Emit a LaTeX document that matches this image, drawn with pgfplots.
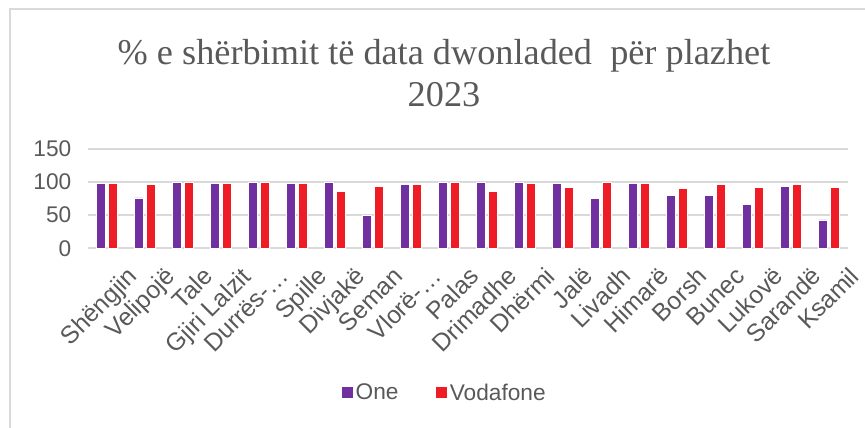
\documentclass[border=0pt]{standalone}
\usepackage{fontspec}
\setmainfont{Liberation Sans}
\newfontfamily\titlefont{Liberation Serif}
\usepackage{pgfplots}
\pgfplotsset{compat=1.18}
\definecolor{onecol}{HTML}{7030A0}
\definecolor{vodcol}{HTML}{EE1C25}
\definecolor{gridcol}{HTML}{D9D9D9}
\definecolor{txtcol}{HTML}{595959}

\begin{document}
\begin{tikzpicture}
\useasboundingbox (-66pt,-134.8pt) rectangle (582.75pt,186.2pt);
% frame (top and left edges only)
\draw[gridcol, line width=1.5pt] (-58.5pt,-134.8pt) -- (-58.5pt,179.5pt) -- (582.75pt,179.5pt);
\begin{axis}[
    at={(0pt,0pt)}, anchor=south west,
    scale only axis,
    width=570pt, height=74.5pt,
    ybar=2.25pt, bar width=6.75pt,
    xmin=-0.5, xmax=19.5,
    ymin=0, ymax=150,
    ytick={0,50,100,150},
    xtick={0,...,19},
    xticklabels={Shëngjin,Velipojë,Tale,Gjiri Lalzit,Durrës-…,Spille,Divjakë,Seman,Vlorë-…,Palas,Drimadhe,Dhërmi,Jalë,Livadh,Himarë,Borsh,Bunec,Lukovë,Sarandë,Ksamil},
    ymajorgrids, grid style={gridcol, line width=1.2pt},
    axis line style={draw=none},
    major tick length=0pt,
    tick style={draw=none},
    /pgf/number format/assume math mode=true,
    ticklabel style={font=\fontsize{17}{20}\selectfont, text=txtcol},
    yticklabel style={xshift=-9pt},
    xticklabel style={font=\fontsize{18.5}{21}\selectfont, rotate=45, anchor=north east, inner sep=0pt, yshift=-19pt, xshift=1pt},
    legend columns=2,
    legend style={at={(0.4697,-1.456)}, anchor=center, draw=none,
        font=\fontsize{17}{20}\selectfont, text=txtcol,
        /tikz/every even column/.append style={column sep=26pt}},
    legend image code/.code={\fill[#1,draw=none] (0pt,-4pt) rectangle (8.5pt,4.5pt);},
]
\addplot[fill=onecol, draw=white, line width=0.3pt] coordinates {
    (0,98) (1,76) (2,100) (3,98) (4,100) (5,98) (6,100) (7,50) (8,96) (9,100)
    (10,100) (11,100) (12,98) (13,75) (14,98) (15,80) (16,80) (17,66) (18,94) (19,43)
};
\addplot[fill=vodcol, draw=white, line width=0.3pt] coordinates {
    (0,98) (1,96) (2,100) (3,98) (4,100) (5,98) (6,86) (7,94) (8,96) (9,100)
    (10,86) (11,98) (12,92) (13,100) (14,98) (15,90) (16,96) (17,92) (18,96) (19,92)
};
\legend{One, Vodafone}
\end{axis}
\node[anchor=base, text=txtcol, font=\titlefont\fontsize{27.2}{31}\selectfont] at (267pt,137.5pt) {\% e shërbimit të data dwonladed\ \ për plazhet};
\node[anchor=base, text=txtcol, font=\titlefont\fontsize{27.2}{31}\selectfont] at (267pt,106pt) {2023};
\end{tikzpicture}
\end{document}
